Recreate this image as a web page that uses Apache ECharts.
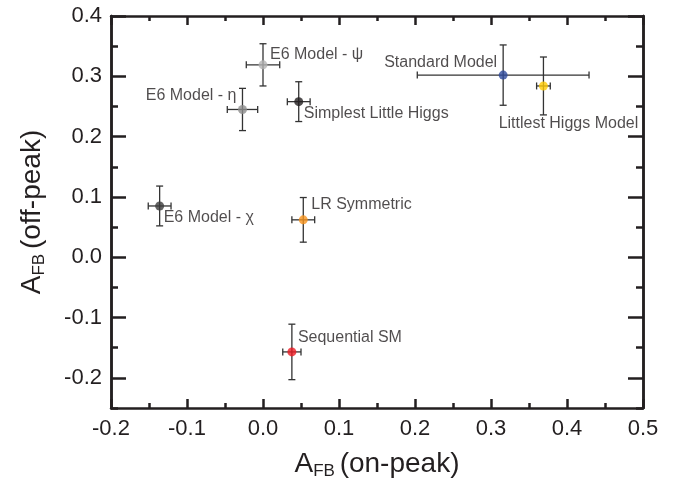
<!DOCTYPE html>
<html>
<head>
<meta charset="utf-8">
<script src="https://cdn.jsdelivr.net/npm/echarts@6/dist/echarts.min.js"></script>
<style>
  html, body { margin: 0; padding: 0; background: #fff; }
  #chart { width: 681px; height: 485px; }
</style>
</head>
<body>
<div id="chart"></div>
<script>
// model predictions: A_FB on-peak vs off-peak, with errors
const names = ["E6 Model - ψ", "E6 Model - η", "Simplest Little Higgs", "E6 Model - χ",
  "LR Symmetric", "Sequential SM", "Standard Model", "Littlest Higgs Model"];
const onPeak = [0.000, -0.027, 0.047, -0.136, 0.053, 0.038, 0.316, 0.369];
const offPeak = [0.319, 0.245, 0.258, 0.085, 0.062, -0.157, 0.302, 0.284];
const onPeakErr = [0.022, 0.020, 0.015, 0.015, 0.015, 0.012, 0.113, 0.009];
const offPeakErr = [0.035, 0.035, 0.033, 0.033, 0.037, 0.046, 0.050, 0.048];

const yMajorTicks = [-0.2, -0.1, 0.0, 0.1, 0.2, 0.3, 0.4];
const yMinorTicks = [-0.25, -0.15, -0.05, 0.05, 0.15, 0.25, 0.35];

// styling per model
const colors = {
  "E6 Model - ψ": "#b3b3b3",
  "E6 Model - η": "#8c8c8c",
  "Simplest Little Higgs": "#231f20",
  "E6 Model - χ": "#3c3c3c",
  "LR Symmetric": "#f7941d",
  "Sequential SM": "#ed1c24",
  "Standard Model": "#2e4a9c",
  "Littlest Higgs Model": "#ffcb05"
};
// label anchor relative to point centre: [align, dx, dy]
const labelPos = {
  "E6 Model - ψ": ["left", 7, -10],
  "E6 Model - η": ["right", -6, -14],
  "Simplest Little Higgs": ["left", 5, 12],
  "E6 Model - χ": ["left", 4, 12],
  "LR Symmetric": ["left", 8, -15],
  "Sequential SM": ["left", 6, -14],
  "Standard Model": ["right", -6, -13],
  "Littlest Higgs Model": ["center", 25, 38]
};

const font = "'Liberation Sans', Arial, Helvetica, sans-serif";
const ink = "#231f20";

const chart = echarts.init(document.getElementById("chart"), null, { renderer: "canvas" });

const nameRich = {
  a: { fontSize: 28, lineHeight: 32, fontFamily: font, color: ink },
  s: { fontSize: 17, lineHeight: 17, verticalAlign: "bottom", fontFamily: font, color: ink }
};

function xAxisCfg(pos, showLabel) {
  return {
    type: "value",
    position: pos,
    min: -0.2,
    max: 0.5,
    interval: 0.1,
    axisLine: { show: true, onZero: false, lineStyle: { color: ink, width: 2.5 } },
    axisTick: { show: true, inside: true, length: 9, lineStyle: { color: ink, width: 2.5 } },
    minorTick: { show: true, splitNumber: 2, length: 5, lineStyle: { color: ink, width: 2.5 } },
    axisLabel: {
      show: showLabel, fontSize: 22, color: ink, fontFamily: font, margin: 10,
      formatter: (v) => v.toFixed(1)
    },
    splitLine: { show: false },
    minorSplitLine: { show: false }
  };
}

function yAxisCfg(pos, ticks, len, showLabel) {
  return {
    type: "value",
    position: pos,
    min: -0.25,
    max: 0.4,
    axisLine: { show: true, onZero: false, lineStyle: { color: ink, width: 2.5 } },
    axisTick: { show: true, inside: true, length: len, customValues: ticks, lineStyle: { color: ink, width: 2.5 } },
    axisLabel: {
      show: showLabel, customValues: ticks, fontSize: 22, color: ink, fontFamily: font, margin: 9,
      formatter: (v) => v.toFixed(1)
    },
    splitLine: { show: false }
  };
}

const xBottom = xAxisCfg("bottom", true);
xBottom.name = "{a|A}{s|FB }{a|(on-peak)}";
xBottom.nameLocation = "middle";
xBottom.nameGap = 40;
xBottom.nameTextStyle = { rich: nameRich };

const yLeft = yAxisCfg("left", yMajorTicks, 15, true);
yLeft.name = "{a|A}{s|FB }{a|(off-peak)}";
yLeft.nameLocation = "middle";
yLeft.nameGap = 63;
yLeft.nameTextStyle = { rich: nameRich };

const pointData = names.map((n, i) => ({
  name: n,
  value: [onPeak[i], offPeak[i]],
  itemStyle: { color: colors[n] },
  label: {
    align: labelPos[n][0],
    offset: [labelPos[n][1], labelPos[n][2]]
  }
}));

const barData = names.map((n, i) => [onPeak[i], offPeak[i], onPeakErr[i], offPeakErr[i]]);

const option = {
  animation: false,
  backgroundColor: "#fff",
  grid: { left: 111, right: 38, top: 16, bottom: 75 },
  xAxis: [xBottom, xAxisCfg("top", false)],
  yAxis: [
    yLeft,
    yAxisCfg("left", yMinorTicks, 7, false),
    yAxisCfg("right", yMajorTicks, 15, false),
    yAxisCfg("right", yMinorTicks, 7, false)
  ],
  series: [
    {
      type: "custom",
      name: "errors",
      data: barData,
      encode: { x: 0, y: 1 },
      z: 2,
      renderItem: (params, api) => {
        const x = api.value(0), y = api.value(1);
        const ex = api.value(2), ey = api.value(3);
        const l = api.coord([x - ex, y]);
        const r = api.coord([x + ex, y]);
        const t = api.coord([x, y + ey]);
        const b = api.coord([x, y - ey]);
        const cap = 3.5;
        const st = { stroke: "#333", lineWidth: 1.3 };
        const line = (x1, y1, x2, y2) => ({ type: "line", shape: { x1, y1, x2, y2 }, style: st });
        return {
          type: "group",
          children: [
            line(l[0], l[1], r[0], r[1]),
            line(l[0], l[1] - cap, l[0], l[1] + cap),
            line(r[0], r[1] - cap, r[0], r[1] + cap),
            line(t[0], t[1], b[0], b[1]),
            line(t[0] - cap, t[1], t[0] + cap, t[1]),
            line(b[0] - cap, b[1], b[0] + cap, b[1])
          ]
        };
      }
    },
    {
      type: "scatter",
      name: "models",
      symbol: "circle",
      symbolSize: 9,
      z: 3,
      data: pointData,
      label: {
        show: true,
        position: "inside",
        verticalAlign: "middle",
        formatter: (p) => p.name,
        fontSize: 16,
        color: ink,
        fontFamily: font
      },
      emphasis: { disabled: true }
    }
  ]
};

chart.setOption(option);
</script>
</body>
</html>
